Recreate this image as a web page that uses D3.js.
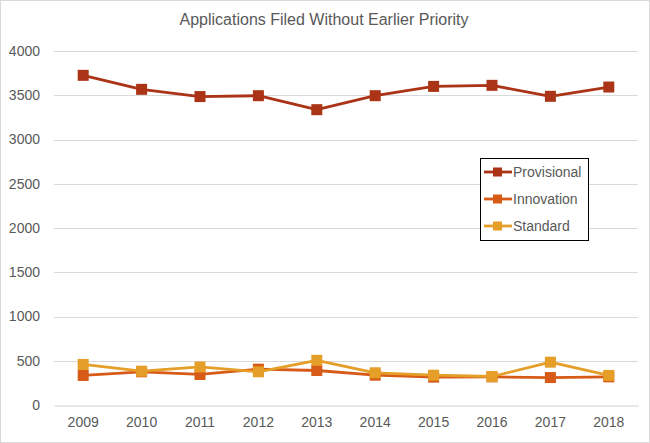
<!DOCTYPE html>
<html>
<head>
<meta charset="utf-8">
<script src="https://cdn.jsdelivr.net/npm/d3@7"></script>
<style>
  body { margin: 0; background: #fff; }
  text { font-family: "Liberation Sans", Arial, sans-serif; }
</style>
</head>
<body>
<div class="container"></div>
<script>
// data
const years = ['2009','2010','2011','2012','2013','2014','2015','2016','2017','2018']
const provisional = [3725, 3567, 3485, 3495, 3337, 3495, 3600, 3612, 3488, 3593]
const innovation  = [334, 375, 345, 405, 390, 337, 315, 318, 310, 318]
const standard    = [458, 382, 430, 375, 505, 364, 337, 322, 484, 334]
const yTicks = [0, 500, 1000, 1500, 2000, 2500, 3000, 3500, 4000]
const seriesNames = ['Provisional', 'Innovation', 'Standard']
const seriesColors = ['#ab3316', '#d75b17', '#e59e27']

const width = 650, height = 443
const svg = d3.select('.container').append('svg')
    .attr('width', width).attr('height', height)

// outer chart border
svg.append('rect')
    .attr('x', 0.5).attr('y', 0.5)
    .attr('width', width - 1).attr('height', height - 1)
    .attr('fill', '#fff').attr('stroke', '#d9d9d9')

const margin = {left: 54, right: 12, top: 51, bottom: 38}

const x = d3.scaleBand()
    .domain(years)
    .range([margin.left, width - margin.right])

const y = d3.scaleLinear()
    .domain([0, 4000])
    .range([height - margin.bottom, margin.top])

// title
svg.append('text')
    .attr('x', 324).attr('y', 25)
    .attr('text-anchor', 'middle')
    .attr('font-size', 16)
    .attr('fill', '#595959')
    .text('Applications Filed Without Earlier Priority')

// gridlines
svg.append('g')
    .selectAll('line')
    .data(yTicks.filter(d => d > 0))
    .enter().append('line')
        .attr('x1', margin.left).attr('x2', width - margin.right)
        .attr('y1', d => Math.round(y(d)) + 0.5)
        .attr('y2', d => Math.round(y(d)) + 0.5)
        .attr('stroke', '#d9d9d9')

// y axis labels
const yAxis = svg.append('g')
    .attr('transform', `translate(${margin.left - 14},0)`)
    .call(d3.axisLeft(y).tickValues(yTicks).tickFormat(d3.format('d')).tickSize(0).tickPadding(0))
yAxis.select('.domain').remove()
yAxis.selectAll('text')
    .attr('font-size', 14)
    .attr('fill', '#595959')

// x axis
const xAxis = svg.append('g')
    .attr('transform', `translate(0,${Math.round(y(0)) + 0.5})`)
    .call(d3.axisBottom(x).tickSize(0).tickPadding(12))
xAxis.select('.domain').attr('stroke', '#d0d0d0')
xAxis.selectAll('text')
    .attr('font-size', 14)
    .attr('fill', '#595959')

const cx = d => x(d) + x.bandwidth() / 2
const line = d3.line()
    .x((d, i) => cx(years[i]))
    .y(d => y(d))

const allSeries = [provisional, innovation, standard]

// draw in order so that Standard sits on top
allSeries.forEach((vals, k) => {
    const g = svg.append('g')
    g.append('path')
        .datum(vals)
        .attr('d', line)
        .attr('fill', 'none')
        .attr('stroke', seriesColors[k])
        .attr('stroke-width', 2.8)
        .attr('stroke-linejoin', 'round')
    g.selectAll('rect')
        .data(vals)
        .enter().append('rect')
            .attr('x', (d, i) => cx(years[i]) - 5.5)
            .attr('y', d => y(d) - 5.5)
            .attr('width', 11).attr('height', 11)
            .attr('fill', seriesColors[k])
})

// legend
const legend = svg.append('g').attr('transform', 'translate(480,158)')
legend.append('rect')
    .attr('x', 0.5).attr('y', 0.5)
    .attr('width', 108).attr('height', 82)
    .attr('fill', '#fff')
    .attr('stroke', '#000')

const item = legend.selectAll('.item')
    .data(seriesNames)
    .enter().append('g')
        .attr('class', 'item')
        .attr('transform', (d, i) => `translate(0,${14 + i * 27})`)
item.append('line')
    .attr('x1', 4).attr('x2', 32)
    .attr('stroke', (d, i) => seriesColors[i])
    .attr('stroke-width', 2.8)
item.append('rect')
    .attr('x', 13).attr('y', -4.5)
    .attr('width', 9).attr('height', 9)
    .attr('fill', (d, i) => seriesColors[i])
item.append('text')
    .attr('x', 33).attr('y', 5)
    .attr('font-size', 14)
    .attr('fill', '#595959')
    .text(d => d)
</script>
</body>
</html>
